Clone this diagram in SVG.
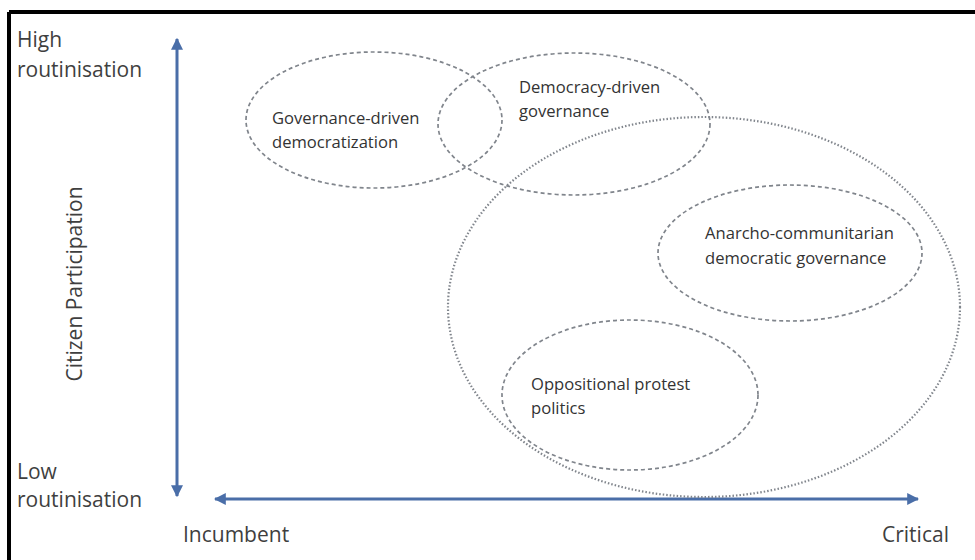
<svg xmlns="http://www.w3.org/2000/svg" width="975" height="560" viewBox="0 0 975 560">
<style>
.lbl{font-family:"Open Sans","Liberation Sans",sans-serif;font-size:16.6px;fill:#333}
.ax{font-family:"Open Sans","Liberation Sans",sans-serif;font-size:21px;fill:#3f3f3f}
.dash{fill:none;stroke:#80858c;stroke-width:1.7;stroke-dasharray:4 3}
.dot{fill:none;stroke:#80858c;stroke-width:2.2;stroke-dasharray:1.5 2}
.axis{stroke:#4a6ea8;stroke-width:3;fill:none}
</style>
<defs>
<marker id="ah" viewBox="0 0 10 10" refX="9" refY="5" markerWidth="4" markerHeight="4" orient="auto-start-reverse" markerUnits="strokeWidth">
<path d="M0,0 L10,5 L0,10 Z" fill="#4a6ea8"/>
</marker>
</defs>
<rect x="0" y="0" width="975" height="560" fill="#fff"/>
<g id="frame">
<line x1="9" y1="12" x2="975" y2="12" stroke="#000" stroke-width="4"/>
<line x1="9" y1="12" x2="9" y2="560" stroke="#000" stroke-width="4"/>
</g>
<g id="connectors">
<line class="axis" x1="177" y1="39" x2="177" y2="496" marker-start="url(#ah)" marker-end="url(#ah)"/>
<line class="axis" x1="215" y1="499" x2="918" y2="499" marker-start="url(#ah)" marker-end="url(#ah)"/>
</g>
<g id="axis-labels">
<text class="ax" x="17" y="47">High</text>
<text class="ax" x="17" y="77">routinisation</text>
<text class="ax" x="17" y="479">Low</text>
<text class="ax" x="17" y="507">routinisation</text>
<text class="ax" x="183" y="542">Incumbent</text>
<text class="ax" x="882" y="542">Critical</text>
<text class="ax" transform="translate(82,284) rotate(-90)" text-anchor="middle">Citizen Participation</text>
</g>
<g id="critical-region">
<ellipse class="dot" cx="704" cy="307" rx="256" ry="190"/>
</g>
<g id="governance-driven">
<ellipse class="dash" cx="374" cy="120" rx="128" ry="68"/>
<text class="lbl" x="272" y="124">Governance-driven</text>
<text class="lbl" x="272" y="148">democratization</text>
</g>
<g id="democracy-driven">
<ellipse class="dash" cx="574" cy="124" rx="136" ry="71"/>
<text class="lbl" x="519" y="93">Democracy-driven</text>
<text class="lbl" x="519" y="117">governance</text>
</g>
<g id="anarcho">
<ellipse class="dash" cx="790" cy="253" rx="132" ry="68"/>
<text class="lbl" x="705" y="239">Anarcho-communitarian</text>
<text class="lbl" x="705" y="264">democratic governance</text>
</g>
<g id="oppositional">
<ellipse class="dash" cx="630" cy="395" rx="128" ry="75"/>
<text class="lbl" x="531" y="390">Oppositional protest</text>
<text class="lbl" x="531" y="414">politics</text>
</g>
</svg>
